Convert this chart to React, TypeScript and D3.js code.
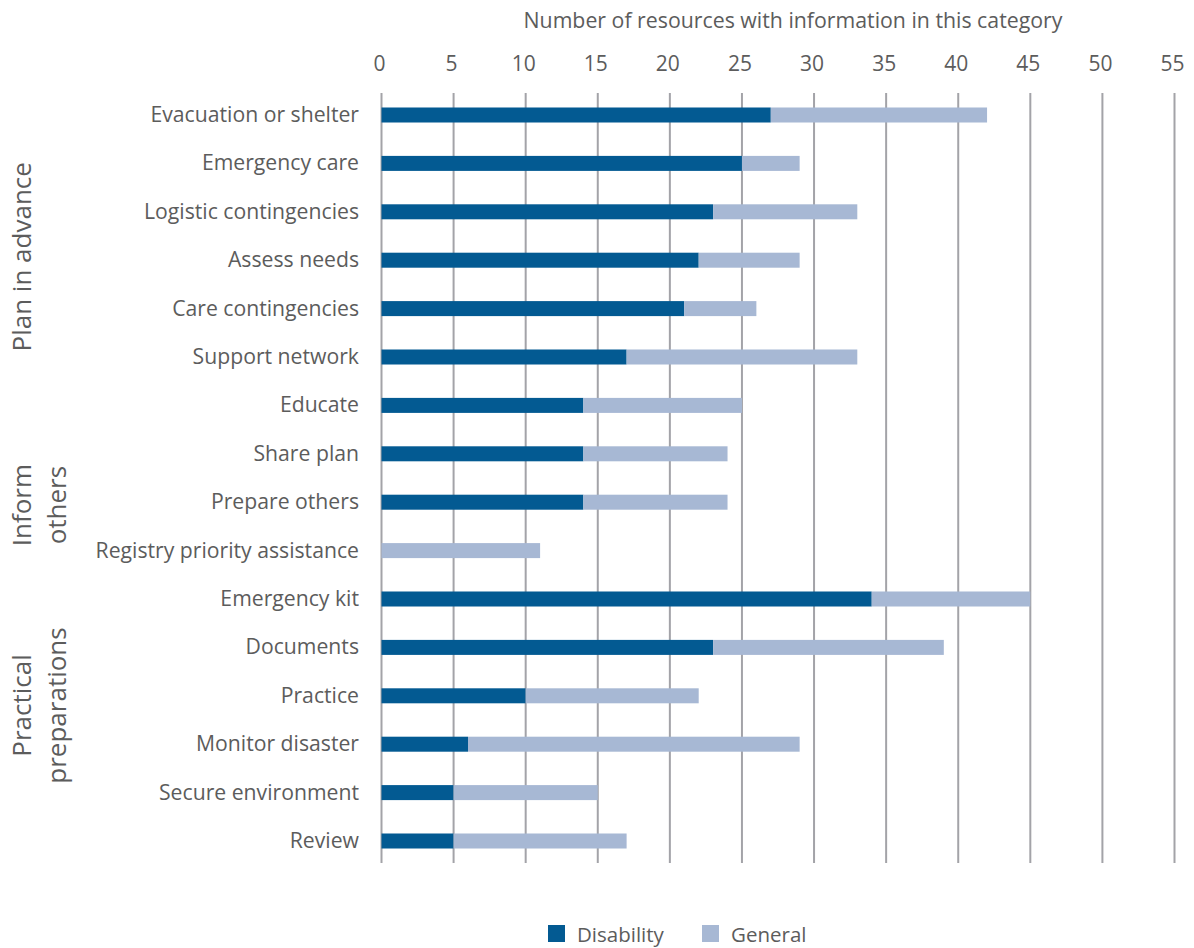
import React from "react";
import * as d3 from "d3";

const categories = [
  "Evacuation or shelter",
  "Emergency care",
  "Logistic contingencies",
  "Assess needs",
  "Care contingencies",
  "Support network",
  "Educate",
  "Share plan",
  "Prepare others",
  "Registry priority assistance",
  "Emergency kit",
  "Documents",
  "Practice",
  "Monitor disaster",
  "Secure environment",
  "Review",
];
const disability = [27, 25, 23, 22, 21, 17, 14, 14, 14, 0, 34, 23, 10, 6, 5, 5];
const general = [15, 4, 10, 7, 5, 16, 11, 10, 10, 11, 11, 16, 12, 23, 10, 12];
const xTicks = [0, 5, 10, 15, 20, 25, 30, 35, 40, 45, 50, 55];
const seriesNames = ["Disability", "General"];
const groupLabels = [["Plan in advance"], ["Inform", "others"], ["Practical", "preparations"]];
// label centre expressed as a (fractional) row index
const groupCenters = [2.93, 8.06, 12.2];

const W = 1194;
const H = 948;
const COLORS = ["#035a92", "#a7b8d4"];
const TEXT = "#5c5c5c";
const GRID = "#a3a3a8";
const FONT = "'Open Sans', 'Noto Sans', sans-serif";

export default function App() {
  const x = d3.scaleLinear().domain([0, 55]).range([381.5, 1174.5]);
  const y = d3
    .scaleBand<string>()
    .domain(categories)
    .range([90.8, 865.2])
    .paddingInner(0.69)
    .paddingOuter(0.345);
  const rowCenter = (idx: number) =>
    y(categories[0])! + y.bandwidth() / 2 + idx * y.step();

  const rows = categories.map((c, i) => ({ c, d: disability[i], g: general[i] }));
  const stack = d3.stack<any>().keys(["d", "g"])(rows as any);

  return (
    <svg
      width={W}
      height={H}
      style={{ position: "absolute", left: 0, top: 0, background: "#fff" }}
      fontFamily={FONT}
    >
      <text x={793} y={28} fontSize={21.3} fill={TEXT} textAnchor="middle">
        Number of resources with information in this category
      </text>
      {xTicks.map((t) => (
        <g key={t}>
          <text x={x(t) - 2} y={71} fontSize={21} fill={TEXT} textAnchor="middle">
            {t}
          </text>
          <line x1={x(t)} x2={x(t)} y1={93} y2={863} stroke={GRID} strokeWidth={2} />
        </g>
      ))}
      {stack.map((layer, si) =>
        layer.map((seg, i) => {
          const w = x(seg[1]) - x(seg[0]);
          if (w <= 0) return null;
          return (
            <rect
              key={`${si}-${i}`}
              x={x(seg[0])}
              y={y(categories[i])!}
              width={w}
              height={y.bandwidth()}
              fill={COLORS[si]}
            />
          );
        })
      )}
      {categories.map((c) => (
        <text
          key={c}
          x={359}
          y={y(c)! + y.bandwidth() / 2 + 7}
          fontSize={21.2}
          fill={TEXT}
          textAnchor="end"
        >
          {c}
        </text>
      ))}
      {groupLabels.map((lines, gi) => {
        const cy = rowCenter(groupCenters[gi]);
        return (
          <g key={gi}>
            {lines.map((ln, li) => {
              const bx = 31 + li * 35;
              return (
                <text
                  key={li}
                  transform={`translate(${bx},${cy}) rotate(-90)`}
                  fontSize={26}
                  fill={TEXT}
                  textAnchor="middle"
                >
                  {ln}
                </text>
              );
            })}
          </g>
        );
      })}
      {seriesNames.map((s, i) => {
        const lx = i === 0 ? 548 : 702;
        return (
          <g key={s}>
            <rect x={lx} y={925} width={17} height={17} fill={COLORS[i]} />
            <text x={lx + 29} y={942} fontSize={20.5} fill={TEXT}>
              {s}
            </text>
          </g>
        );
      })}
    </svg>
  );
}
